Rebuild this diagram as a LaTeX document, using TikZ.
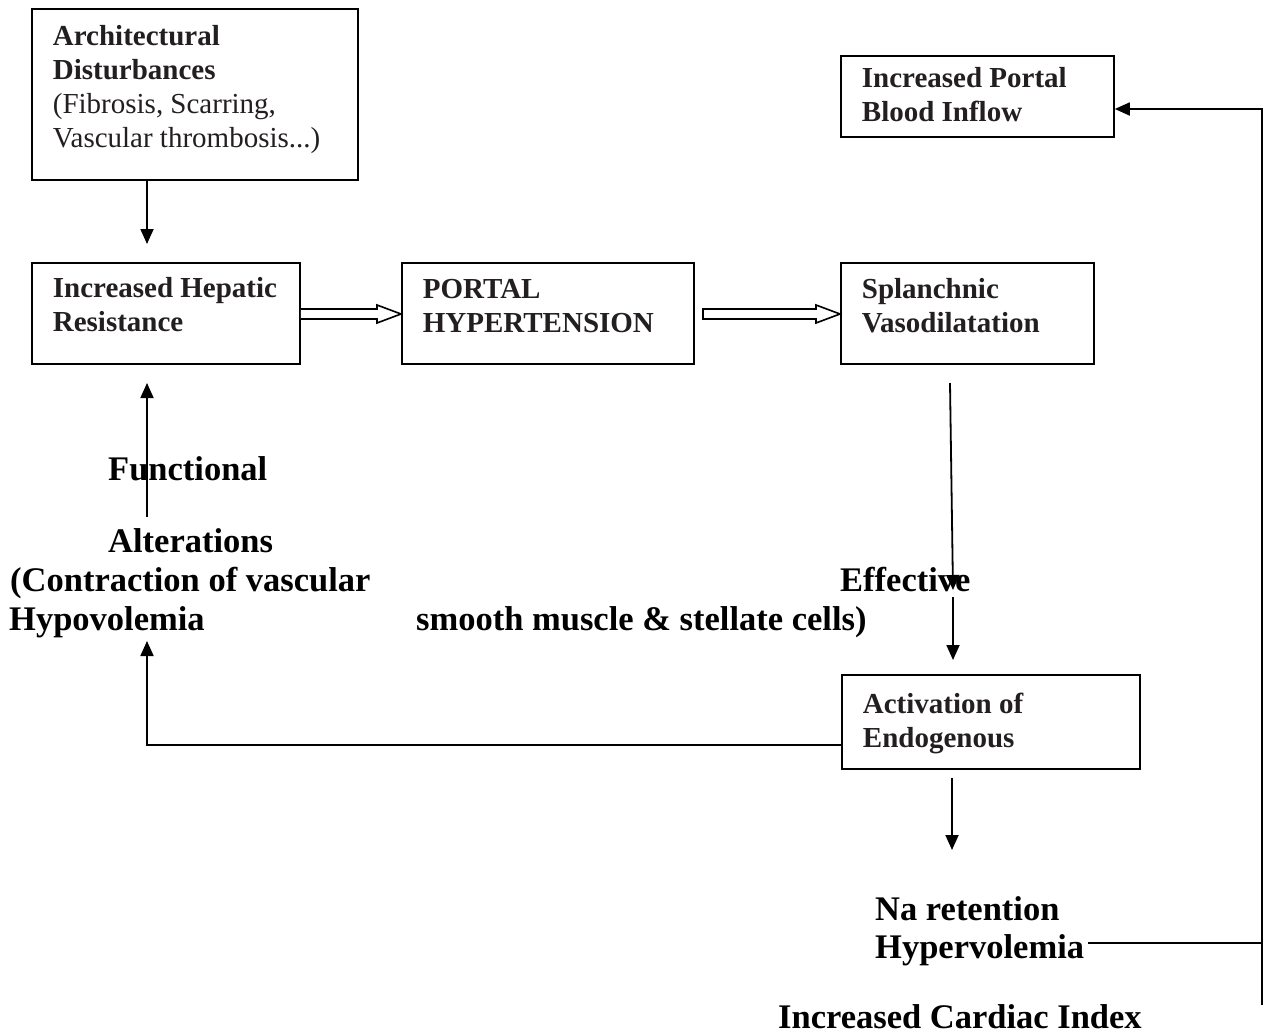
\documentclass[tikz,border=0pt]{standalone}
\usepackage{fontspec}
\setmainfont{Liberation Serif}
\usetikzlibrary{calc,arrows.meta}
\definecolor{boxink}{RGB}{35,31,32}
\newcommand{\boxtext}[4]{\parbox[c][#2][t]{#1}{\fontsize{29}{34}\selectfont\bfseries\raggedright\leftskip=21pt\rule{0pt}{#3}#4}}
\tikzset{
  bx/.style={draw, line width=1.8pt, inner sep=0pt, anchor=north west, text=boxink},
  big/.style={inner sep=0pt, anchor=base west, font=\fontsize{34.5}{39}\selectfont\bfseries},
  arr/.style={line width=1.8pt, -{Triangle[length=15pt,width=13pt]}},
  plain/.style={line width=1.8pt},
  hollow/.style={line width=1.6pt, fill=white, line join=miter},
}
\newcommand{\hollowarrow}[3]{\draw[hollow] ($(#1)+(0,-5)$) -- ($(#2)+(-24,-5)$) -- ($(#2)+(-24,-9)$) -- (#2) -- ($(#2)+(-24,9)$) -- ($(#2)+(-24,5)$) -- ($(#1)+(0,5)$) #3;}
\begin{document}
\begin{tikzpicture}[x=1pt,y=-1pt]
\useasboundingbox[fill=white] (0,0) rectangle (1264,1036);
% boxes
\node[bx] (A) at (31,8) {\boxtext{326pt}{171pt}{37pt}{Architectural\\Disturbances\\{\mdseries (Fibrosis, Scarring,\\Vascular thrombosis...)}}};
\node[bx] (B) at (31,262) {\boxtext{268pt}{101pt}{35pt}{Increased Hepatic\\Resistance}};
\node[bx] (C) at (401,262) {\boxtext{292pt}{101pt}{36pt}{PORTAL\\HYPERTENSION}};
\node[bx] (D) at (840,262) {\boxtext{253pt}{101pt}{36pt}{Splanchnic\\Vasodilatation}};
\node[bx] (E) at (840,55) {\boxtext{273pt}{81pt}{32pt}{Increased Portal\\Blood Inflow}};
\node[bx] (F) at (841,674) {\boxtext{298pt}{94pt}{39pt}{Activation of\\Endogenous}};
% free texts
\node[big] (fun) at (108,480) {Functional};
\node[big] (alt) at (108,552) {Alterations};
\node[big] (con) at (10,591) {(Contraction of vascular};
\node[big] (hypo) at (9,630) {Hypovolemia};
\node[big] (eff) at (840,591) {Effective};
\node[big] (smo) at (416,630) {smooth muscle \& stellate cells)};
\node[big] (na) at (875,920) {Na retention};
\node[big] (hyper) at (875,958) {Hypervolemia};
\node[big] (cci) at (778,1028) {Increased Cardiac Index};
% connectors
\coordinate (a1) at (147,244);
\draw[arr] (A.south -| a1) -- (a1);
\coordinate (u0) at (147,517);
\coordinate (u1) at (147,383);
\draw[arr] (u0) -- (u1);
\coordinate (f0) at (F.west |- 0,745);
\coordinate (f1) at (147,745);
\coordinate (f2) at (147,641);
\draw[arr] (f0) -- (f1) -- (f2);
\coordinate (d0) at (950,383);
\coordinate (d1) at (953,590);
\draw[arr] (d0) -- (d1);
\coordinate (d2) at (953,597);
\coordinate (d3) at (953,660);
\draw[arr] (d2) -- (d3);
\coordinate (g0) at (952,778);
\coordinate (g1) at (952,850);
\draw[arr] (g0) -- (g1);
\coordinate (h0) at (1088,943);
\coordinate (h1) at (1262,943);
\draw[plain] (h0) -- (h1);
\coordinate (v0) at (1262,1005);
\coordinate (v1) at (1262,109);
\draw[arr] (v0) -- (v1) -- (E.east |- v1);
% hollow arrows
\coordinate (s1) at (B.east |- 0,314);
\coordinate (t1) at (C.west |- 0,314);
\hollowarrow{s1}{t1}{}
\coordinate (s2) at (703,314);
\coordinate (t2) at (D.west |- 0,314);
\hollowarrow{s2}{t2}{-- cycle}
\end{tikzpicture}
\end{document}
